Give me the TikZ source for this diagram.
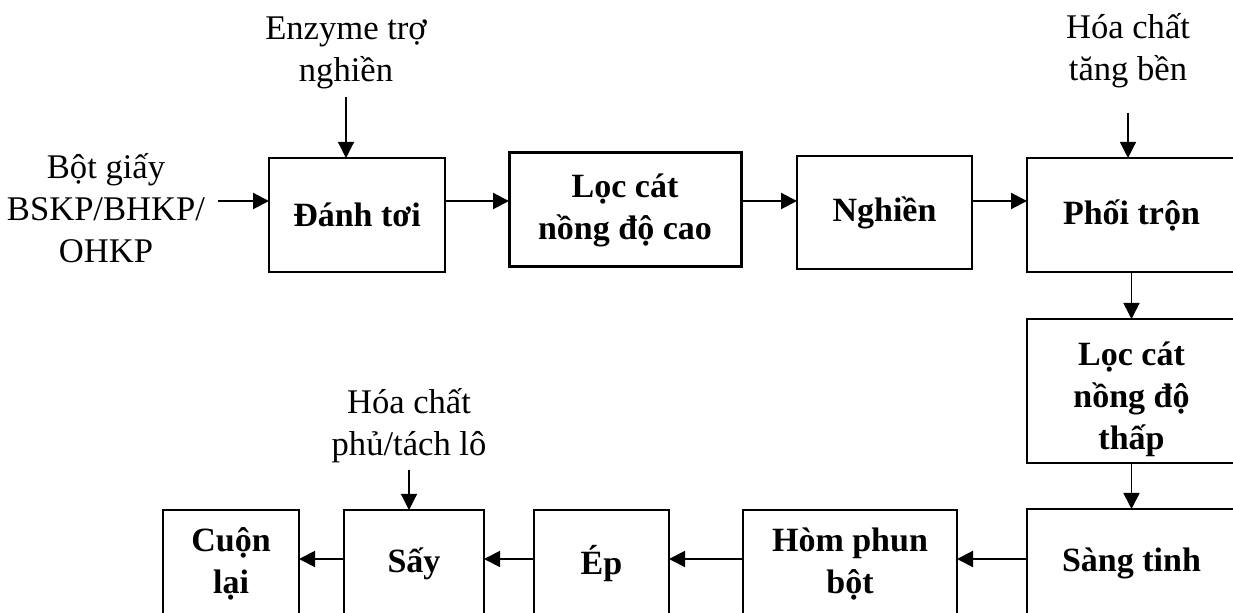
\documentclass[tikz,border=0pt]{standalone}
\usepackage{fontspec}
\setmainfont{Liberation Serif}
\usetikzlibrary{arrows.meta}
% lower a line of text without changing the space it takes
\newcommand{\lowerline}[1]{\raisebox{-4pt}[\height][\depth]{#1}}
\begin{document}
\begin{tikzpicture}[x=0.5pt,y=-0.5pt,
  stepbox/.style={draw=black, line width=1pt, inner sep=0pt, outer sep=0pt,
    anchor=north west, align=center, font=\fontsize{17}{21}\selectfont\bfseries},
  heavybox/.style={stepbox, line width=1.5pt},
  note/.style={align=center, inner sep=0pt, font=\fontsize{17.3}{21}\selectfont},
  flow/.style={-{Triangle[length=8pt,width=8pt]}, line width=1.1pt},
  drop/.style={-{Triangle[length=8pt,width=8pt]}, line width=0.85pt},
  feed/.style={-{Triangle[length=8pt,width=8pt]}, line width=0.6pt},
  back/.style={-{Triangle[length=8pt,width=8pt]}, line width=0.9pt},
]
\useasboundingbox (0,0) rectangle (1233,613);
\clip (0,0) rectangle (1233,613);

% process steps, upper row
\node[stepbox, minimum width=88pt, minimum height=57pt] (danh) at (269,158) {Đánh tơi};
\node[heavybox, minimum width=116pt, minimum height=57pt] (loccao) at (509,153) {Lọc cát\\nồng độ cao};
\node[heavybox, line width=1.3pt, minimum width=87.5pt, minimum height=56.5pt] (nghien) at (797,156) {Nghiền};
\node[stepbox, minimum width=104.5pt, minimum height=57pt] (phoi) at (1027,158) {Phối trộn};

% right column
\node[stepbox, minimum width=104.5pt, minimum height=72pt] (locthap) at (1027,319)
  {\lowerline{Lọc cát}\\\lowerline{nồng độ}\\\lowerline{thấp}};
\node[stepbox, minimum width=104.5pt, minimum height=54pt] (sang) at (1027,509) {Sàng tinh};

% lower row
\node[stepbox, minimum width=107pt, minimum height=54pt] (hom) at (743,510) {Hòm phun\\bột};
\node[stepbox, minimum width=67.5pt, minimum height=54pt] (ep) at (534,510) {Ép};
\node[stepbox, minimum width=70pt, minimum height=54pt] (say) at (344,510) {Sấy};
\node[stepbox, minimum width=68pt, minimum height=54pt] (cuon) at (163,510) {Cuộn\\lại};

% inputs
\node[note] (bot) at (106,208) {Bột giấy\\BSKP/BHKP/\\OHKP};
\node[note] (enz) at (346,53) {Enzyme trợ\\nghiền};
\node[note] (hoa1) at (1128,51) {Hóa chất\\tăng bền};
\node[note] (hoa2) at (409,426) {Hóa chất\\phủ/tách lô};

% arrow rows
\coordinate (r1) at (0,201);
\coordinate (r2) at (0,559);
\coordinate (botout) at (218,201);

% connectors
\draw[flow] (botout) -- (danh.west |- r1);
\draw[flow] (danh.east |- r1) -- (loccao.west |- r1);
\draw[flow] (loccao.east |- r1) -- (nghien.west |- r1);
\draw[flow] (nghien.east |- r1) -- (phoi.west |- r1);
\draw[drop] (phoi.south) -- (locthap.north);
\draw[drop] (locthap.south) -- (sang.north);
\draw[flow] (sang.west |- r2) -- (hom.east |- r2);
\draw[back] (hom.west |- r2) -- (ep.east |- r2);
\draw[back] (ep.west |- r2) -- (say.east |- r2);
\draw[back] (say.west |- r2) -- (cuon.east |- r2);

\draw[feed] ([yshift=-4pt]enz.south) -- (enz.south |- danh.north);
\draw[feed] ([yshift=-12pt]hoa1.south) -- (hoa1.south |- phoi.north);
\draw[feed] ([yshift=-3pt]hoa2.south) -- (hoa2.south |- say.north);
\end{tikzpicture}
\end{document}
